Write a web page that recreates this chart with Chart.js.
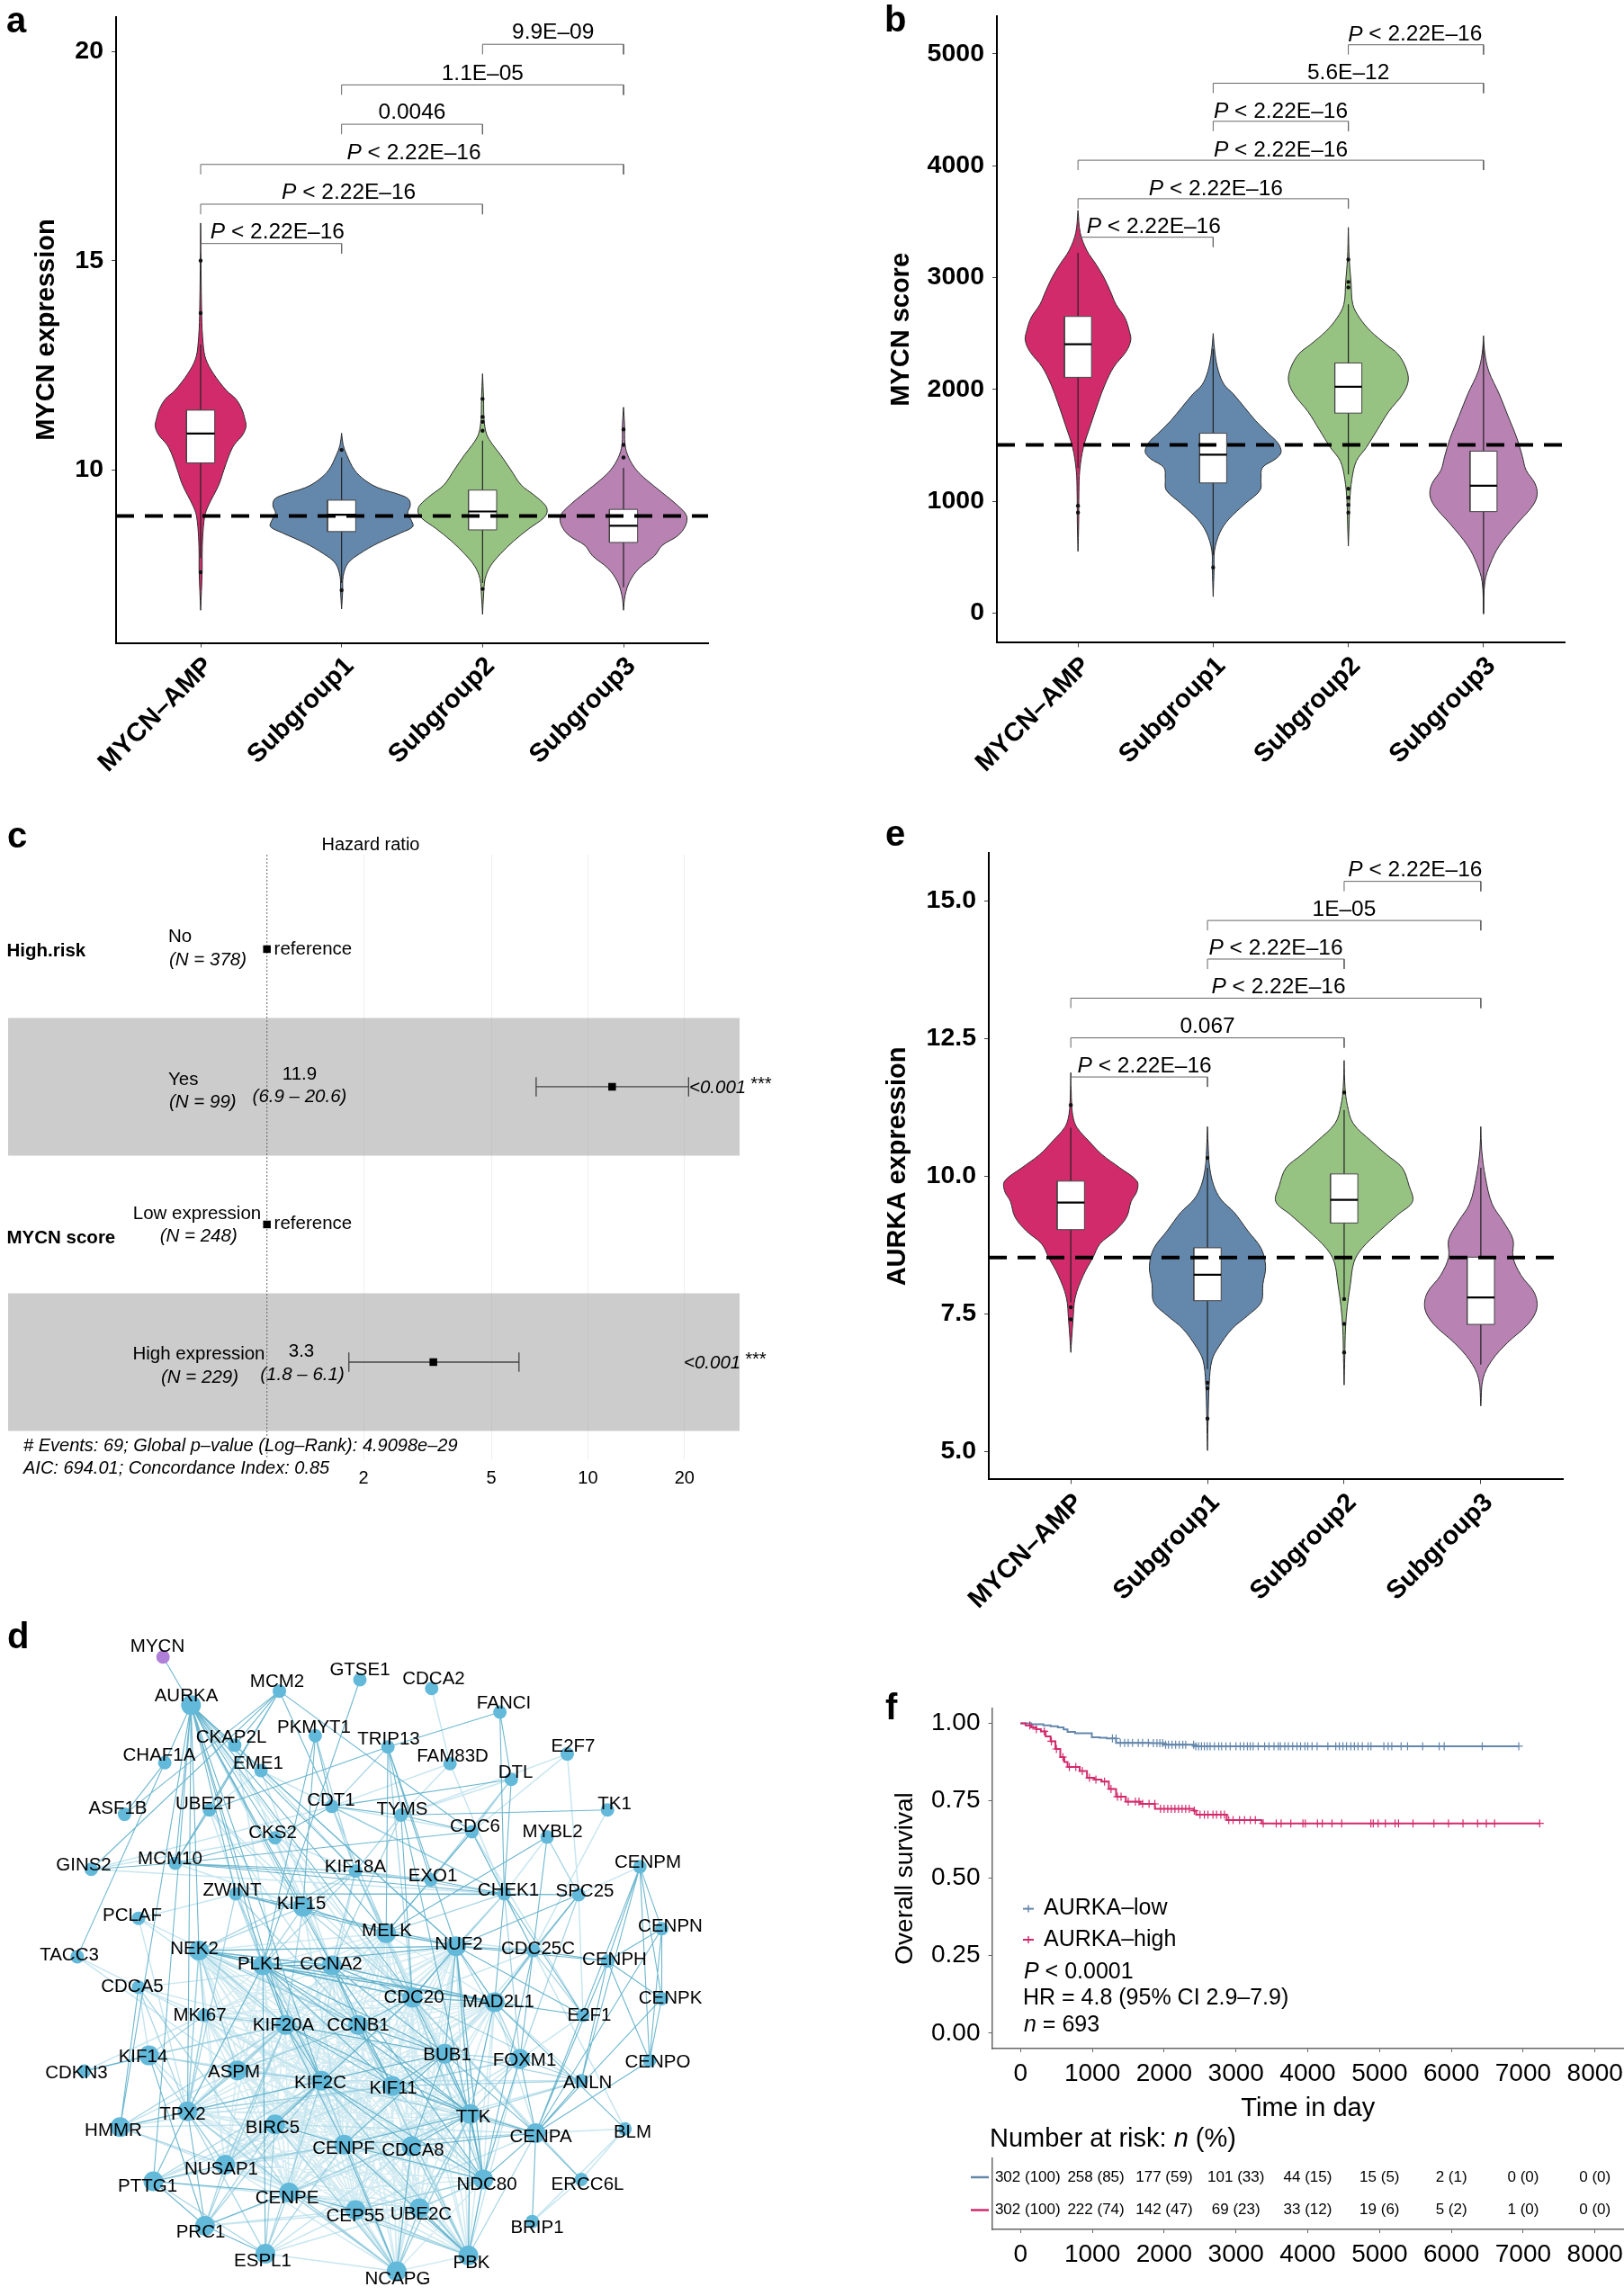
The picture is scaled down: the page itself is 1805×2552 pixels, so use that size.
<!DOCTYPE html>
<html><head><meta charset="utf-8">
<script src="https://cdn.jsdelivr.net/npm/chart.js@4"></script>
<style>
html,body{margin:0;padding:0;background:#fff}
#page{position:relative;width:1805px;height:2552px;overflow:hidden;background:#fff}
canvas{position:absolute}
.plab{position:absolute;font:bold 40px/40px "Liberation Sans",Arial,sans-serif;color:#000;z-index:5}
</style></head><body><div id="page"></div>
<script>
/* ---------- shared categories ---------- */
const groupLabels = ["MYCN–AMP","Subgroup1","Subgroup2","Subgroup3"];
const bracketPairs = [[3,4],[2,4],[2,3],[1,4],[1,3],[1,2]];
const P_TEXT = "P < 2.22E–16";

/* ---------- panel a ---------- */
const aTicks = [10,15,20];
const aBracketLevels = [20.17,19.2,18.26,17.3,16.35,15.41];
const aBracketLabels = ["9.9E–09","1.1E–05","0.0046",P_TEXT,P_TEXT,P_TEXT];
const aCutoff = 8.9;
const aLevels1 = [15.9,13.7,13.0,12.65,12.3,11.9,11.7,11.45,11.2,11.05,10.85,10.6,10.35,10.0,9.64,9.15,8.9,8.4,7.95,7.6,7.1,6.65];
const aWidths1 = [0,2,5,10,25,50,68,80,86,88,82,65,55,45,35,15,8,4,3,3,1.5,0];
const aLevels2 = [10.88,10.6,10.36,10.0,9.76,9.58,9.4,9.3,9.15,8.97,8.8,8.65,8.5,8.25,8.0,7.77,7.46,7.1,6.68];
const aWidths2 = [0,3,10,25,45,70,115,130,133,128,135,138,115,70,35,12,3,2,0];
const aLevels3 = [12.3,11.7,11.2,10.85,10.6,10.36,10.0,9.64,9.4,9.15,9.0,8.85,8.6,8.3,8.0,7.7,7.4,7.0,6.55];
const aWidths3 = [0,2,3,8,20,35,55,75,100,122,125,118,90,60,35,15,5,2,0];
const aLevels4 = [11.5,11.09,10.6,10.3,10.0,9.76,9.46,9.15,8.91,8.67,8.43,8.2,7.95,7.65,7.34,7.0,6.65];
const aWidths4 = [0,2,3,10,25,45,75,105,122,120,105,75,60,30,12,3,0];
const aQ1 = [10.17,8.53,8.57,8.27], aMedian = [10.87,8.93,9.01,8.67], aQ3 = [11.43,9.28,9.52,9.06];
const aWhiskLow = [7.9,7.3,7.3,7.2], aWhiskHigh = [13.0,10.3,10.7,10.05];
const aOutliers = [[15.0,13.75,7.56],[10.48,7.13],[11.7,11.27,11.15,10.94,7.16],[10.97,10.6,10.3]];

/* ---------- panel b ---------- */
const bTicks = [0,1000,2000,3000,4000,5000];
const bBracketLevels = [5080,4736,4396,4048,3704,3360];
const bBracketLabels = [P_TEXT,"5.6E–12",P_TEXT,P_TEXT,P_TEXT,P_TEXT];
const bCutoff = 1504;
const bLevels1 = [3600,3400,3240,3120,3000,2880,2760,2640,2520,2440,2340,2200,2040,1880,1680,1480,1280,1080,800,552];
const bWidths1 = [0,5,20,40,58,72,85,105,115,118,108,80,60,45,28,12,4,2,1.5,0];
const bLevels2 = [2500,2320,2160,2040,1960,1840,1720,1600,1520,1440,1380,1300,1200,1100,980,840,720,560,400,148];
const bWidths2 = [0,4,12,25,45,70,95,125,145,152,140,110,107,105,72,35,15,3,2,0];
const bLevels3 = [3448,3160,2960,2760,2640,2520,2400,2320,2200,2080,1960,1800,1640,1480,1360,1200,1000,840,600];
const bWidths3 = [0,2,6,10,25,50,85,110,128,134,122,90,65,40,18,8,3,2,0];
const bLevels4 = [2480,2320,2160,1960,1760,1560,1400,1280,1160,1060,960,800,600,440,280,-8];
const bWidths4 = [0,3,12,35,55,75,87,95,115,120,110,75,35,15,3,0];
const bQ1 = [2108,1164,1788,908], bMedian = [2404,1416,2024,1140], bQ3 = [2652,1608,2236,1448];
const bWhiskLow = [1300,520,1240,0], bWhiskHigh = [3220,2360,2760,2400];
const bOutliers = [[960,900],[408],[3160,2960,2912,1112,1032,968,900],[]];

/* ---------- panel e ---------- */
const eTicks = [5,7.5,10,12.5,15];
const eBracketLevels = [15.35,14.64,13.94,13.23,12.51,11.8];
const eBracketLabels = [P_TEXT,"1E–05",P_TEXT,P_TEXT,"0.067",P_TEXT];
const eCutoff = 8.525;
const eLevels1 = [11.88,11.29,11.04,10.88,10.64,10.39,10.15,9.91,9.73,9.54,9.26,9.01,8.77,8.53,8.2,7.8,7.39,7.06,6.8];
const eWidths1 = [0,2,6,14,40,70,110,148,148,135,125,100,65,50,28,10,5,2,0];
const eLevels2 = [10.9,10.47,10.15,9.83,9.58,9.34,9.01,8.69,8.36,8.04,7.71,7.47,7.23,6.9,6.66,6.25,5.6,5.02];
const eWidths2 = [0,2,5,14,30,60,90,120,130,124,120,90,55,25,10,4,1.5,0];
const eLevels3 = [12.1,11.61,11.29,10.96,10.64,10.39,10.15,9.83,9.54,9.3,9.01,8.69,8.44,8.04,7.63,7.23,6.74,6.21];
const eWidths3 = [0,2,7,20,60,95,130,145,153,120,80,40,22,14,7,3,1.5,0];
const eLevels4 = [10.9,10.47,9.99,9.5,9.18,8.85,8.53,8.2,7.88,7.59,7.31,6.98,6.66,6.33,5.83];
const eWidths4 = [0,2,10,25,50,72,72,90,120,125,105,60,25,5,0];
const eQ1 = [9.03,7.74,9.15,7.31], eMedian = [9.52,8.21,9.57,7.8], eQ3 = [9.91,8.7,10.04,8.53];
const eWhiskLow = [7.71,6.5,7.8,6.58], eWhiskHigh = [10.88,10.15,11.2,10.15];
const eOutliers = [[11.29,7.62,7.4],[10.33,6.25,6.15,5.6],[11.52,7.77,7.32,6.8],[]];

/* ---------- panel c ---------- */
const forestRows = [1,2,3,4];
const forestHR = [1,11.9,1,3.3];
const forestLow = [null,6.9,null,1.8];
const forestHigh = [null,20.6,null,6.1];
const forestTicks = [2,5,10,20];
const shadedRows = [2,4];

/* ---------- panel d ---------- */
const geneNames = ["MYCN","AURKA","MCM2","GTSE1","CDCA2","FANCI","PKMYT1","CKAP2L","CHAF1A","EME1","TRIP13","FAM83D","E2F7","DTL","ASF1B","UBE2T","CDT1","TYMS","TK1","CDC6","MYBL2","CKS2","GINS2","MCM10","KIF18A","EXO1","CHEK1","SPC25","CENPM","ZWINT","KIF15","PCLAF","MELK","CENPN","TACC3","NEK2","PLK1","CCNA2","NUF2","CDC25C","CENPH","CDCA5","CDC20","MAD2L1","E2F1","CENPK","MKI67","KIF20A","CCNB1","BUB1","FOXM1","KIF14","CDKN3","ASPM","KIF2C","KIF11","CENPO","ANLN","TPX2","HMMR","BIRC5","TTK","CENPA","BLM","CENPF","CDCA8","NUSAP1","PTTG1","CENPE","NDC80","ERCC6L","CEP55","UBE2C","PRC1","BRIP1","ESPL1","PBK","NCAPG"];
const geneX = [175,207,308,400,482,560,349,257,177,287,432,503,637,573,131,228,368,447,683,528,614,303,93,189,395,481,565,650,720,258,335,147,430,745,77,216,289,368,510,598,683,147,460,554,655,745,222,315,398,497,583,159,85,260,356,437,731,653,203,126,303,526,601,703,382,459,246,164,319,541,653,395,468,223,597,292,524,442];
const geneY = [1832,1887,1871,1858,1868,1895,1922,1933,1953,1962,1935,1954,1943,1972,2012,2007,2003,2013,2007,2032,2038,2039,2075,2068,2077,2087,2103,2104,2072,2103,2118,2131,2148,2143,2175,2168,2185,2185,2163,2168,2180,2210,2222,2227,2242,2223,2242,2253,2253,2286,2292,2288,2306,2305,2317,2323,2294,2317,2352,2370,2367,2355,2377,2372,2390,2392,2413,2432,2445,2430,2430,2465,2463,2483,2478,2515,2517,2535];
const largeNodes = "AURKA PLK1 CCNA2 MELK NUF2 CDC20 KIF20A CCNB1 BUB1 KIF2C KIF11 TPX2 CENPF CDCA8 TTK CENPA NDC80 CENPE CEP55 UBE2C PBK NCAPG NUSAP1 ESPL1 PRC1 KIF15 NEK2 MAD2L1 ASPM FOXM1 BIRC5 KIF14 PTTG1 HMMR";
const strongEdges = `MYCN-AURKA AURKA-CHAF1A AURKA-PTTG1 AURKA-HMMR AURKA-TPX2 AURKA-NEK2 AURKA-ZWINT AURKA-PLK1 AURKA-KIF15 AURKA-KIF20A AURKA-CCNA2 AURKA-CDC20 AURKA-NUF2 AURKA-MELK AURKA-KIF18A AURKA-CKS2 AURKA-CKAP2L AURKA-MCM10 AURKA-KIF2C
MCM2-ASF1B MCM2-GINS2 MCM2-UBE2T MCM2-MCM10 MCM2-CDT1 MCM2-CDC6 MCM2-CKAP2L ASF1B-CHAF1A TACC3-CHAF1A GTSE1-PLK1 PKMYT1-CDT1 PKMYT1-PLK1 PKMYT1-KIF15 TRIP13-UBE2T TRIP13-FANCI TRIP13-EXO1 TRIP13-NUF2 TRIP13-NDC80 TRIP13-MELK FANCI-DTL FANCI-CHEK1 DTL-CDT1 DTL-CHEK1 TK1-TYMS CDT1-TYMS TYMS-CDC6 TYMS-CDC20 CDC6-MCM10 CDT1-CKS2 CKS2-MCM10 MCM10-UBE2T GINS2-MCM10 MCM10-KIF18A MCM10-EXO1 MCM10-CHEK1 ZWINT-CHEK1 ZWINT-SPC25 ZWINT-MELK ZWINT-KIF15 ZWINT-NUF2 KIF15-MELK MELK-NUF2 MYBL2-MELK MYBL2-CDC25C CDC6-CDC25C CDC6-CHEK1 CDC6-MELK CHEK1-CDC25C CHEK1-E2F1 CHEK1-MAD2L1 EXO1-CHEK1 SPC25-CHEK1 SPC25-NUF2 SPC25-CDC25C
CENPM-CENPN CENPM-CENPH CENPM-CENPK CENPM-CENPO CENPM-CENPA CENPM-ANLN CENPN-CENPH CENPN-CENPK CENPN-CENPO CENPN-CENPA CENPH-CENPK CENPH-CENPO CENPH-CENPA CENPH-ANLN CENPH-CDC25C CENPH-NUF2 CENPK-CENPO CENPK-CENPA CENPO-CENPA CDC25C-NUF2 CDC25C-MAD2L1 CDC25C-FOXM1 CDC25C-NDC80 MAD2L1-E2F1 NUF2-E2F1 MAD2L1-BLM FOXM1-CENPA ANLN-CENPA CENPA-TTK CENPA-BUB1 CENPA-NDC80 CENPA-ERCC6L CENPA-BRIP1 CENPA-CDCA8 NDC80-TTK NDC80-FOXM1 NDC80-CENPF TTK-NUF2 TTK-CDC20 TTK-BUB1 TTK-MAD2L1 NUF2-BUB1 NUF2-NDC80 NUF2-CDC20 NUF2-MAD2L1 CDC20-MAD2L1
PLK1-NEK2 PLK1-CCNB1 PLK1-CDC20 PLK1-CCNA2 PLK1-KIF20A PLK1-KIF2C PLK1-BUB1 PLK1-TTK PLK1-MAD2L1 PLK1-ESPL1 PLK1-TPX2 PLK1-NUF2 PLK1-KIF11 NEK2-CCNA2 NEK2-NUF2 NEK2-CDC20 NEK2-MAD2L1 CCNA2-CDC20 CCNA2-CCNB1 CCNA2-MAD2L1 CCNA2-BUB1 CCNA2-KIF11 CCNA2-NDC80 CCNB1-CDC20 CCNB1-BUB1 CCNB1-KIF11 CCNB1-TTK KIF20A-KIF2C KIF20A-KIF11 KIF20A-CENPF KIF20A-BUB1 KIF20A-TTK KIF11-BUB1 KIF11-TTK KIF2C-BIRC5 KIF2C-TPX2 KIF2C-BUB1 KIF2C-CDCA8 KIF2C-NDC80 TPX2-HMMR TPX2-PTTG1 TPX2-PRC1 PTTG1-NUSAP1 PTTG1-PRC1 PTTG1-CENPE KIF14-PRC1 KIF14-CDKN3 HMMR-CDCA5 PRC1-CENPE PRC1-ESPL1 CEP55-CENPE PBK-UBE2C PBK-NDC80 PBK-TTK PBK-CENPF NCAPG-CENPF NCAPG-CDCA8 CDCA8-BUB1 CDCA8-TTK CENPF-TTK CENPF-BUB1 BIRC5-CDC20 BIRC5-CENPF`;
const mediumEdges = `PKMYT1-KIF18A TRIP13-CDT1 TRIP13-CDC20 DTL-CDC6 DTL-EXO1 CDC6-EXO1 MYBL2-SPC25 CDT1-KIF18A CDT1-CHEK1 CDT1-MELK TYMS-KIF18A TYMS-CCNA2 KIF18A-KIF15 KIF18A-MELK KIF18A-PLK1 KIF18A-EXO1 KIF18A-CCNA2 KIF18A-CHEK1 KIF18A-NEK2 KIF18A-CDC20 KIF15-PLK1 KIF15-CCNA2 KIF15-NEK2 KIF15-KIF20A KIF15-CDC20 ZWINT-PLK1 ZWINT-TPX2 ZWINT-KIF2C ZWINT-CCNB1 EXO1-MELK CHEK1-NUF2 CHEK1-FOXM1 CHEK1-MELK CHEK1-CDC20 SPC25-MAD2L1 SPC25-FOXM1 NUF2-FOXM1 MAD2L1-FOXM1 FOXM1-BUB1 FOXM1-TTK FOXM1-ANLN FOXM1-KIF11 ANLN-BUB1 ANLN-KIF11 ANLN-TTK ANLN-CDC20 E2F1-CDC25C CENPA-KIF11 CENPA-CENPF CENPA-KIF2C CENPA-PBK CENPA-CDC20 NDC80-UBE2C NDC80-CEP55 NDC80-KIF11 NDC80-CDC20 TTK-CENPE TTK-UBE2C TTK-NCAPG PBK-CEP55 PBK-CDCA8 PBK-CENPE PBK-KIF2C PBK-CCNB1 NCAPG-TPX2 NCAPG-CENPE NCAPG-UBE2C NCAPG-CEP55 NCAPG-KIF2C NCAPG-BIRC5 ESPL1-CENPE ESPL1-TPX2 ESPL1-KIF2C ESPL1-CENPF ESPL1-BIRC5 PRC1-NUSAP1 PRC1-BIRC5 PRC1-KIF2C PRC1-KIF20A NUSAP1-TPX2 NUSAP1-KIF20A NUSAP1-CENPF NUSAP1-KIF2C TPX2-NEK2 TPX2-KIF20A TPX2-MKI67 TPX2-ASPM TPX2-KIF11 KIF14-TPX2 KIF14-KIF20A KIF14-MKI67 KIF14-ASPM CDCA5-TPX2 CDCA5-CENPE NEK2-KIF20A NEK2-ASPM NEK2-MKI67 NEK2-CCNB1 MKI67-KIF20A ASPM-KIF2C ASPM-CCNB1 ASPM-KIF20A HMMR-KIF20A PTTG1-KIF2C PTTG1-ESPL1 HMMR-NUSAP1`;
const lightEdges = `CDCA2-FAM83D FAM83D-TYMS FAM83D-CHEK1 FAM83D-CDT1 E2F7-CDC6 E2F7-SPC25 E2F7-TYMS DTL-TYMS TK1-CDC25C SPC25-E2F1 SPC25-CENPM CDC6-E2F1 CDT1-CDC6 GINS2-CDT1 GINS2-CKS2 GINS2-CHEK1 CKAP2L-EME1 AURKA-EME1 AURKA-CCNB1 AURKA-TTK AURKA-BUB1 EME1-KIF18A EME1-CCNA2 EME1-CHEK1 EME1-UBE2T CKAP2L-KIF20A CKAP2L-NUF2 CKAP2L-KIF15 CKS2-KIF18A CKS2-CCNA2 CKS2-CDC20 UBE2T-CCNB1 UBE2T-CDC20 UBE2T-KIF15 UBE2T-PLK1 PCLAF-ZWINT PCLAF-TPX2 PCLAF-KIF20A PCLAF-CCNB1 TACC3-CDCA5 TACC3-ASPM CDCA5-MKI67 CDCA5-KIF20A CDCA5-KIF2C CDCA5-CCNA2 CDCA5-KIF14 MCM10-KIF15 KIF18A-CENPE KIF18A-TTK KIF15-CENPF CDC25C-CDC20 CDC25C-MELK CDC25C-BUB1 BLM-CDC25C BLM-ERCC6L BLM-BRIP1 ERCC6L-BRIP1 ERCC6L-CDC20 MAD2L1-CENPA E2F1-FOXM1 MYBL2-CHEK1 CENPA-BLM CENPA-MAD2L1 CENPA-CEP55 CENPA-BIRC5 FOXM1-PBK FOXM1-CDCA8 FOXM1-CENPE ANLN-MAD2L1 ANLN-CENPF ANLN-KIF2C ESPL1-NCAPG ESPL1-UBE2C ESPL1-CEP55 ESPL1-CDCA8 PRC1-UBE2C PRC1-CEP55 PRC1-CDCA8 PTTG1-CENPF PTTG1-UBE2C PTTG1-KIF11 PTTG1-BIRC5 HMMR-KIF2C HMMR-KIF11 HMMR-BIRC5 HMMR-CENPE HMMR-ASPM KIF14-KIF2C KIF14-CENPE CDKN3-KIF20A CDKN3-MKI67`;
const denseCore = ["NEK2","PLK1","CCNA2","MELK","NUF2","CDC20","MAD2L1","KIF20A","CCNB1","BUB1","ASPM","KIF2C","KIF11","TPX2","BIRC5","CENPF","CDCA8","TTK","NUSAP1","CENPE","CEP55","UBE2C","NDC80","NCAPG","PBK","MKI67"];

/* ---------- panel f ---------- */
const lowDays = [0,150,318,420,520,600,655,760,892,993,1100,1200,1331,1400,1804,2000,2412,6939];
const lowSurv = [1,.997,.993,.990,.987,.98,.972,.968,.968,.955,.953,.951,.937,.937,.936,.931,.926,.926];
const highDays = [0,70,149,220,284,350,419,486,554,610,655,824,926,1030,1128,1230,1331,1466,1669,1872,2412,2446,2851,2872,3324,3358,7230];
const highSurv = [1,.993,.987,.981,.974,.958,.942,.917,.891,.875,.859,.846,.824,.818,.812,.788,.763,.747,.740,.724,.718,.705,.705,.688,.688,.677,.677];
const lowCensored = [1280,1330,1390,1450,1500,1560,1640,1700,1780,1850,1900,1940,1980,2020,2060,2110,2160,2210,2260,2300,2410,2440,2480,2520,2560,2600,2640,2700,2760,2800,2860,2920,3000,3060,3110,3160,3200,3240,3310,3400,3460,3530,3590,3620,3680,3730,3790,3850,3900,3960,4000,4060,4130,4280,4390,4440,4490,4540,4600,4650,4700,4760,4840,4880,5060,5120,5170,5300,5390,5600,5830,5900,6430,6939];
const highCensored = [130,220,330,430,500,590,680,770,860,960,1050,1170,1260,1350,1400,1500,1600,1650,1700,1790,1870,1950,2000,2050,2100,2150,2200,2250,2300,2350,2420,2500,2560,2610,2680,2730,2790,2840,2900,2960,3050,3120,3200,3270,3380,3561,3629,3764,3933,3966,4135,4203,4338,4473,4879,4912,4980,5081,5216,5264,5466,5757,5960,6162,6365,6487,6602,7230];
const riskTimes = [0,1000,2000,3000,4000,5000,6000,7000,8000];
const riskLow = ["302 (100)","258 (85)","177 (59)","101 (33)","44 (15)","15 (5)","2 (1)","0 (0)","0 (0)"];
const riskHigh = ["302 (100)","222 (74)","142 (47)","69 (23)","33 (12)","19 (6)","5 (2)","1 (0)","0 (0)"];
const survTicks = [0,0.25,0.5,0.75,1];
const legendNames = ["AURKA–low","AURKA–high"];

/* ---------- styling ---------- */
const FONT = '"Liberation Sans", Arial, sans-serif';
const PINK="#D22B6C", BLUE="#6487AC", GREEN="#97C382", PURPLE="#B882B3";
const VIOLIN_COLORS=[PINK,BLUE,GREEN,PURPLE];
Chart.defaults.font.family = FONT;
Chart.defaults.color = "#000";
Chart.defaults.animation = false;

const page = document.getElementById("page");

/* fills closed line elements and writes real text through the chart's scales */
const panelPlugin = {
  id:"panelPlugin",
  beforeDatasetDraw(chart,args){
    const ds = chart.data.datasets[args.index];
    if(!ds.shapeFill) return;
    const el = args.meta.dataset, c = chart.ctx;
    el.updateControlPoints(chart.chartArea,"x");
    c.save(); c.beginPath(); el.path(c); c.closePath();
    c.fillStyle = ds.shapeFill; c.fill(); c.restore();
  },
  afterDraw(chart){
    const cfg = chart.options.plugins.panelPlugin||{};
    const c = chart.ctx, ox = cfg.left||0, oy = cfg.top||0;
    (cfg.swatches||[]).forEach(s=>{
      c.strokeStyle=s.color; c.lineWidth=s.w||2.5;
      c.beginPath(); c.moveTo(s.x1-ox,s.y-oy); c.lineTo(s.x2-ox,s.y-oy); c.stroke();
      if(s.tick){c.lineWidth=1.5;c.beginPath();c.moveTo((s.x1+s.x2)/2-ox,s.y-oy-4);c.lineTo((s.x1+s.x2)/2-ox,s.y-oy+4);c.stroke();}
    });
    (cfg.texts||[]).forEach(t=>{
      const x = t.vx!=null ? chart.scales.x.getPixelForValue(t.vx)+(t.dx||0) : t.x-ox;
      const y = t.vy!=null ? chart.scales.y.getPixelForValue(t.vy)+(t.dy||0) : t.y-oy;
      const parts = t.parts||[{t:t.t,i:t.i,b:t.b}];
      const size = t.size||20;
      c.save(); c.fillStyle=t.color||"#000"; c.textBaseline="middle"; c.textAlign="left";
      const fontOf = p=>`${p.i?"italic ":""}${p.b?"bold ":""}${p.size||size}px ${FONT}`;
      let w=0; parts.forEach(p=>{c.font=fontOf(p); w+=c.measureText(p.t).width;});
      let px = t.align==="center"? x-w/2 : x;
      parts.forEach(p=>{c.font=fontOf(p); c.fillText(p.t,px,y+(p.up||0)); px+=c.measureText(p.t).width;});
      c.restore();
    });
  }
};
Chart.register(panelPlugin);

function makeCanvas(left,top,w,h){
  const cv=document.createElement("canvas");
  cv.width=w;cv.height=h;cv.style.left=left+"px";cv.style.top=top+"px";cv.style.width=w+"px";cv.style.height=h+"px";
  page.appendChild(cv);return cv;
}
function fixedBox(prop,val){return s=>{s[prop]=val;s.paddingTop=0;s.paddingBottom=0;s.paddingLeft=0;s.paddingRight=0;};}
function setTicks(values){return s=>{s.ticks=values.map(v=>({value:v}));};}

/* ---------- violin panel builder ---------- */
function violinPanel(o){
  const cv=makeCanvas(o.left,o.top,o.w,o.h);
  const datasets=[];
  const line=(data,st)=>datasets.push(Object.assign({data,showLine:true,pointRadius:0,borderWidth:1,borderColor:"#222",tension:0,fill:false},st));
  o.levels.forEach((lev,k)=>{
    const cat=k+1, wid=o.widths[k].map(v=>v*o.densityScale);
    const pts=lev.map((y,i)=>({x:cat+wid[i],y}));
    for(let i=lev.length-1;i>=0;i--) pts.push({x:cat-wid[i],y:lev[i]});
    line(pts,{shapeFill:VIOLIN_COLORS[k],tension:0.35,order:60,borderColor:"#2b2b2b",borderWidth:1});
    line([{x:cat,y:o.whiskLow[k]},{x:cat,y:o.whiskHigh[k]}],{order:50,borderColor:"#222",borderWidth:1.2});
    const a=cat-0.1,b=cat+0.1;
    line([{x:a,y:o.q1[k]},{x:b,y:o.q1[k]},{x:b,y:o.q3[k]},{x:a,y:o.q3[k]},{x:a,y:o.q1[k]}],{shapeFill:"#fff",order:40,borderColor:"#444",borderWidth:1});
    line([{x:a,y:o.median[k]},{x:b,y:o.median[k]}],{order:30,borderColor:"#000",borderWidth:2.2});
    datasets.push({data:o.outliers[k].map(y=>({x:cat,y})),pointRadius:2.2,backgroundColor:"#111",borderWidth:0,showLine:false,order:45});
  });
  line([{x:o.xMin,y:o.cutoff},{x:o.xMax,y:o.cutoff}],{borderColor:"#000",borderWidth:4,borderDash:[20,12],order:10});
  const texts=[];
  bracketPairs.forEach((p,i)=>{
    const y=o.bracketLevels[i];
    line([{x:p[0],y:y-o.drop},{x:p[0],y},{x:p[1],y},{x:p[1],y:y-o.drop}],{borderColor:"#666",borderWidth:1,order:5});
    const s=o.bracketLabels[i];
    const parts=s.startsWith("P ")?[{t:"P",i:1},{t:s.slice(1)}]:[{t:s}];
    texts.push({vx:(p[0]+p[1])/2,dx:o.textShift[i],vy:y,dy:-o.textGap,parts,size:24.5,align:"center"});
  });
  new Chart(cv,{type:"scatter",data:{datasets},options:{
    responsive:false,devicePixelRatio:1,animation:false,
    layout:{padding:{left:0,top:o.T-o.top,right:o.left+o.w-o.R,bottom:0}},
    plugins:{legend:{display:false},tooltip:{enabled:false},panelPlugin:{texts,left:o.left,top:o.top}},
    scales:{
      x:{type:"linear",min:o.xMin,max:o.xMax,afterFit:fixedBox("height",o.top+o.h-o.B),afterBuildTicks:setTicks(groupLabels.map((_,i)=>i+1)),
        border:{color:"#000",width:2},grid:{drawOnChartArea:false,tickLength:5,color:"#444"},
        ticks:{autoSkip:false,minRotation:45,maxRotation:45,padding:o.xPad,labelOffset:9,font:{size:29,weight:"bold"},callback:v=>groupLabels[v-1]}},
      y:{type:"linear",min:o.yMin,max:o.yMax,afterFit:fixedBox("width",o.L-o.left),afterBuildTicks:setTicks(o.ticks),
        border:{color:"#000",width:2},grid:{drawOnChartArea:false,tickLength:5,color:"#444"},
        title:{display:true,text:o.title,font:{size:29,weight:"bold"},padding:{top:o.titlePad,bottom:0}},
        ticks:{padding:9,font:{size:28.5,weight:"bold"},callback:o.fmt||(v=>String(v))}}
    }}});
}
const commonCat={xMin:0.4,xMax:4.6};
violinPanel(Object.assign({left:0,top:0,w:800,h:900,L:129,R:787,T:18.5,B:714.6,yMin:5.87,yMax:20.83,densityScale:1/273,drop:0.24,textGap:12.5,xPad:4,titlePad:35,textShift:[0,0,0,2,8,7],
  title:"MYCN expression",ticks:aTicks,cutoff:aCutoff,bracketLevels:aBracketLevels,bracketLabels:aBracketLabels,
  levels:[aLevels1,aLevels2,aLevels3,aLevels4],widths:[aWidths1,aWidths2,aWidths3,aWidths4],q1:aQ1,q3:aQ3,median:aMedian,whiskLow:aWhiskLow,whiskHigh:aWhiskHigh,outliers:aOutliers},commonCat));
violinPanel(Object.assign({left:960,top:0,w:800,h:900,L:1108,R:1739,T:18.4,B:714.4,yMin:-264,yMax:5332,densityScale:1/302.3,drop:88,textGap:11,xPad:4,titlePad:25,textShift:[-1,0,0,0,3,9],
  title:"MYCN score",ticks:bTicks,cutoff:bCutoff,bracketLevels:bBracketLevels,bracketLabels:bBracketLabels,
  levels:[bLevels1,bLevels2,bLevels3,bLevels4],widths:[bWidths1,bWidths2,bWidths3,bWidths4],q1:bQ1,q3:bQ3,median:bMedian,whiskLow:bWhiskLow,whiskHigh:bWhiskHigh,outliers:bOutliers},commonCat));
violinPanel(Object.assign({left:960,top:930,w:800,h:900,L:1099,R:1737,T:948.4,B:1644.4,yMin:4.496,yMax:15.86,densityScale:1/305.7,drop:0.18,textGap:12,xPad:4,titlePad:21,textShift:[3,0,0,3,0,6],
  title:"AURKA expression",ticks:eTicks,fmt:v=>v.toFixed(1),cutoff:eCutoff,bracketLevels:eBracketLevels,bracketLabels:eBracketLabels,
  levels:[eLevels1,eLevels2,eLevels3,eLevels4],widths:[eWidths1,eWidths2,eWidths3,eWidths4],q1:eQ1,q3:eQ3,median:eMedian,whiskLow:eWhiskLow,whiskHigh:eWhiskHigh,outliers:eOutliers},commonCat));

/* ---------- panel c: forest plot ---------- */
(function(){
  const left=0,top=920,w=900,h=740,L=9,R=822,T=950,B=1622;
  const hrMin=0.1561,hrMax=29.7,rowMin=0.314,rowMax=4.706;
  const ds=[];
  shadedRows.forEach(r=>ds.push({data:[{x:hrMin,y:r-.5},{x:hrMax,y:r-.5},{x:hrMax,y:r+.5},{x:hrMin,y:r+.5}],showLine:true,borderWidth:0,pointRadius:0,shapeFill:"rgba(153,153,153,0.5)",order:90}));
  ds.push({data:[{x:1,y:rowMin},{x:1,y:rowMax}],showLine:true,pointRadius:0,borderColor:"#666",borderWidth:1,borderDash:[2,2],order:20});
  forestRows.forEach((r,i)=>{
    if(forestLow[i]!=null){
      const cap=0.07;
      ds.push({data:[{x:forestLow[i],y:r},{x:forestHigh[i],y:r}],showLine:true,pointRadius:0,borderColor:"#444",borderWidth:1.3,order:15});
      [forestLow[i],forestHigh[i]].forEach(v=>ds.push({data:[{x:v,y:r-cap},{x:v,y:r+cap}],showLine:true,pointRadius:0,borderColor:"#444",borderWidth:1.3,order:15}));
    }
  });
  ds.push({data:forestRows.map((r,i)=>({x:forestHR[i],y:r})),pointStyle:"rect",pointRadius:6,backgroundColor:"#000",borderWidth:0,showLine:false,order:5});
  const T20=20.5;
  const sig=(x,y)=>({x,y,size:T20,parts:[{t:"<0.001",i:1},{t:"\u2009",i:1},{t:"***",i:1,size:20,up:-4}]});
  const texts=[
    {t:"Hazard ratio",x:412,y:939,align:"center",size:20},
    {t:"High.risk",x:7.5,y:1057,b:1,size:T20},
    {t:"No",x:187,y:1041,size:T20},{t:"(N = 378)",x:188,y:1067,i:1,size:T20},
    {t:"reference",x:304.6,y:1055,size:T20},
    {t:"Yes",x:187,y:1200,size:T20},{t:"(N = 99)",x:188,y:1225,i:1,size:T20},
    {t:"11.9",x:333,y:1194,align:"center",size:T20},{t:"(6.9 – 20.6)",x:333,y:1219,align:"center",i:1,size:T20},
    sig(766,1209),
    {t:"MYCN score",x:7.5,y:1376,b:1,size:T20},
    {t:"Low expression",x:219,y:1349,align:"center",size:T20},{t:"(N = 248)",x:220.7,y:1374,align:"center",i:1,size:T20},
    {t:"reference",x:304.6,y:1360,size:T20},
    {t:"High expression",x:221,y:1505.6,align:"center",size:T20},{t:"(N = 229)",x:222,y:1531,align:"center",i:1,size:T20},
    {t:"3.3",x:335,y:1502.6,align:"center",size:T20},{t:"(1.8 – 6.1)",x:336,y:1528.5,align:"center",i:1,size:T20},
    sig(760,1515),
    {t:"# Events: 69; Global p–value (Log–Rank): 4.9098e–29",x:26,y:1607,i:1,size:20},
    {t:"AIC: 694.01; Concordance Index: 0.85",x:26,y:1632,i:1,size:20}
  ];
  new Chart(makeCanvas(left,top,w,h),{type:"scatter",data:{datasets:ds},options:{
    responsive:false,devicePixelRatio:1,animation:false,
    layout:{padding:{left:L-left,right:left+w-R,top:T-top,bottom:0}},
    plugins:{legend:{display:false},tooltip:{enabled:false},panelPlugin:{texts,left,top}},
    scales:{
      x:{type:"logarithmic",min:hrMin,max:hrMax,afterFit:fixedBox("height",top+h-B),afterBuildTicks:setTicks(forestTicks),
        border:{display:false},grid:{color:"#efefef",drawTicks:false,lineWidth:1},
        ticks:{padding:9,autoSkip:false,maxRotation:0,font:{size:20},callback:v=>String(v)}},
      y:{type:"linear",reverse:true,min:rowMin,max:rowMax,display:false}
    }}});
})();

/* ---------- panel d: network ---------- */
(function(){
  const left=0,top=1790,w=800,h=762;
  const idx=n=>geneNames.indexOf(n);
  const segs=pairs=>{const out=[];pairs.forEach(([a,b])=>{const i=idx(a),j=idx(b);if(i<0||j<0)return;
    out.push({x:geneX[i],y:geneY[i]},{x:geneX[j],y:geneY[j]},{x:NaN,y:NaN});});return out;};
  const parse=s=>s.trim().split(/\s+/).map(e=>e.split("-"));
  const core=[];denseCore.forEach((a,i)=>denseCore.slice(i+1).forEach(b=>core.push([a,b])));
  const edgeLine=(pairs,color,width,order)=>({data:segs(pairs),showLine:true,spanGaps:false,pointRadius:0,borderColor:color,borderWidth:width,order});
  const big=largeNodes.split(" ");
  const nodes=geneNames.map((n,i)=>({x:geneX[i],y:geneY[i]}));
  const texts=geneNames.map((n,i)=>({t:n,x:geneX[i],y:geneY[i]-2,align:"center",size:20.5}));
  new Chart(makeCanvas(left,top,w,h),{type:"scatter",data:{datasets:[
    {data:nodes,showLine:false,borderWidth:0,
     pointRadius:geneNames.map(n=>big.includes(n)?11:7.5),
     backgroundColor:geneNames.map(n=>n==="MYCN"?"#B07FD8":"#62B9DA"),order:1},
    edgeLine(parse(strongEdges),"rgba(72,165,195,0.8)",1.1,10),
    edgeLine(parse(mediumEdges),"rgba(130,195,216,0.7)",1.3,20),
    edgeLine(parse(lightEdges),"rgba(180,222,235,0.75)",1.5,30),
    edgeLine(core,"rgba(165,215,230,0.5)",1.5,40)
  ]},options:{
    responsive:false,devicePixelRatio:1,animation:false,
    plugins:{legend:{display:false},tooltip:{enabled:false},panelPlugin:{texts,left,top}},
    scales:{x:{type:"linear",min:left,max:left+w,display:false},y:{type:"linear",reverse:true,min:top,max:top+h,display:false}}
  }});
})();

/* ---------- panel f: survival ---------- */
const survAt=(d,days,surv)=>{let v=surv[0];days.forEach((t,i)=>{if(t<=d)v=surv[i];});return v;};
const dayMin=-398,dayMax=8404;
(function(){
  const left=960,top=1880,w=885,h=485,L=1102.5,R=1805,T=1899,B=2277;
  const curve=(days,surv,color,order)=>({data:days.map((d,i)=>({x:d,y:surv[i]})),showLine:true,stepped:true,pointRadius:0,borderColor:color,borderWidth:2,order});
  const marks=(ds,days,surv,color,order)=>({data:ds.map(d=>({x:d,y:survAt(d,days,surv)})),showLine:false,pointStyle:"cross",pointRadius:4.5,borderColor:color,borderWidth:1.2,order});
  const texts=[
    {t:legendNames[0],x:1160,y:2121.6,size:25},{t:legendNames[1],x:1160,y:2156,size:25},
    {parts:[{t:"P",i:1},{t:" < 0.0001"}],x:1138,y:2192,size:25},
    {t:"HR = 4.8 (95% CI 2.9–7.9)",x:1137,y:2221.5,size:25},
    {parts:[{t:"n",i:1},{t:" = 693"}],x:1138,y:2251.5,size:25}
  ];
  const swatches=[{color:BLUE,x1:1137,x2:1149,y:2121.6,w:2,tick:1},{color:PINK,x1:1137,x2:1149,y:2156,w:2,tick:1}];
  new Chart(makeCanvas(left,top,w,h),{type:"scatter",data:{datasets:[
    curve(lowDays,lowSurv,BLUE,20),curve(highDays,highSurv,PINK,10),
    marks(lowCensored,lowDays,lowSurv,BLUE,19),marks(highCensored,highDays,highSurv,PINK,9)
  ]},options:{
    responsive:false,devicePixelRatio:1,animation:false,
    layout:{padding:{top:T-top,left:0,right:left+w-R,bottom:0}},
    plugins:{legend:{display:false},tooltip:{enabled:false},panelPlugin:{texts,swatches,left,top}},
    scales:{
      x:{type:"linear",min:dayMin,max:dayMax,afterFit:fixedBox("height",top+h-B),afterBuildTicks:setTicks(riskTimes),
        border:{color:"#666",width:1.5},grid:{drawOnChartArea:false,tickLength:4,color:"#666"},
        title:{display:true,text:"Time in day",font:{size:29},padding:{top:0,bottom:4}},
        ticks:{padding:7,autoSkip:false,maxRotation:0,font:{size:28},callback:v=>String(v)}},
      y:{type:"linear",min:-0.0497,max:1.0477,afterFit:fixedBox("width",L-left),afterBuildTicks:setTicks(survTicks),
        border:{color:"#666",width:1.5},grid:{drawOnChartArea:false,tickLength:4,color:"#666"},
        title:{display:true,text:"Overall survival",font:{size:28},padding:{top:29,bottom:0}},
        ticks:{padding:9,font:{size:28},callback:v=>v.toFixed(2)}}
    }}});
})();
(function(){
  const left=960,top=2360,w=885,h=192,L=1102.5,R=1805,T=2399,B=2478;
  const nudge=[8,4,0,0,0,0,0,0,0];
  const texts=[{parts:[{t:"Number at risk: "},{t:"n",i:1},{t:" (%)"}],x:1100,y:2378,size:29}];
  riskTimes.forEach((d,i)=>{
    texts.push({t:riskLow[i],vx:d,dx:nudge[i],vy:1,align:"center",size:17});
    texts.push({t:riskHigh[i],vx:d,dx:nudge[i],vy:2,align:"center",size:17});
  });
  const swatches=[{color:BLUE,x1:1079,x2:1099,y:2420,w:2.5},{color:PINK,x1:1079,x2:1099,y:2456.5,w:2.5}];
  new Chart(makeCanvas(left,top,w,h),{type:"scatter",data:{datasets:[]},options:{
    responsive:false,devicePixelRatio:1,animation:false,
    layout:{padding:{top:T-top,left:0,right:left+w-R,bottom:0}},
    plugins:{legend:{display:false},tooltip:{enabled:false},panelPlugin:{texts,swatches,left,top}},
    scales:{
      x:{type:"linear",min:dayMin,max:dayMax,afterFit:fixedBox("height",top+h-B),afterBuildTicks:setTicks(riskTimes),
        border:{color:"#666",width:1.5},grid:{drawOnChartArea:false,tickLength:4,color:"#666"},
        ticks:{padding:7,autoSkip:false,maxRotation:0,font:{size:28},callback:v=>String(v)}},
      y:{type:"linear",reverse:true,min:0.425,max:2.589,afterFit:fixedBox("width",L-left),
        border:{color:"#666",width:1.5},grid:{display:false},ticks:{display:false}}
    }}});
})();

/* ---------- panel letters ---------- */
[["a",7,36],["b",983,35],["c",8,942],["d",8,1832],["e",984,940],["f",984,1911]].forEach(([s,x,b])=>{
  const d=document.createElement("div");d.className="plab";d.textContent=s;d.style.left=x+"px";d.style.top=(b-34)+"px";page.appendChild(d);
});
</script></body></html>
